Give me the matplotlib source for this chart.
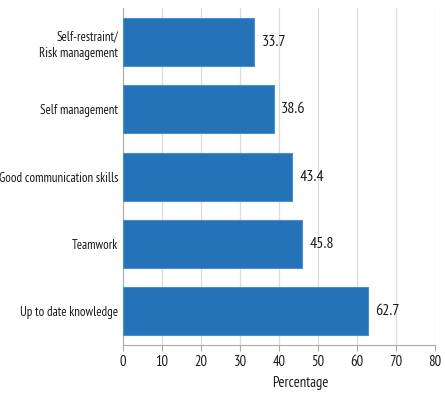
import matplotlib
matplotlib.use("Agg")
import matplotlib.pyplot as plt

categories = ["Up to date knowledge", "Teamwork", "Good communication skills",
              "Self management", "Self-restraint/\nRisk management"]
values = [62.7, 45.8, 43.4, 38.6, 33.7]
xticks = [0, 10, 20, 30, 40, 50, 60, 70, 80]

plt.rcParams['font.family'] = ["PT Sans Narrow", "DejaVu Sans"]

fig = plt.figure(figsize=(4.45, 3.96), dpi=100)
ax = fig.add_axes([123/445, 1-345/396, (435-123)/445, (345-8.3)/396])

ypos = list(range(len(categories)))
ax.barh(ypos, values, height=0.71, color="#2473b8", edgecolor="#4a8fcc", linewidth=0.8, zorder=3)
for y, v in zip(ypos, values):
    ax.text(v + 1.95, y, f"{v}", va="center", ha="left", fontsize=11.5, color="#1a1a1a")

ax.set_xlim(0, 80)
ax.set_ylim(-0.5, 4.5)
ax.set_xticks(xticks)
ax.set_xticklabels([str(t) for t in xticks], fontsize=10.5, color="#1a1a1a")
ax.set_yticks(ypos)
ax.set_yticklabels(categories, fontsize=9.3, color="#1a1a1a", linespacing=1.4)
ax.tick_params(axis='y', length=0, pad=3.5)
ax.tick_params(axis='x', length=4, color="#aaaaaa", pad=3)
ax.grid(axis='x', color="#dcdcdc", linewidth=0.9, zorder=0)
for s in ['top', 'right']:
    ax.spines[s].set_visible(False)
for s in ['left', 'bottom']:
    ax.spines[s].set_color("#aaaaaa")
ax.set_xlabel("Percentage", fontsize=10.5, color="#1a1a1a", va="center")
ax.xaxis.set_label_coords((300-123)/312, -(383-345)/336.7)

fig.savefig("out.png", dpi=100)
